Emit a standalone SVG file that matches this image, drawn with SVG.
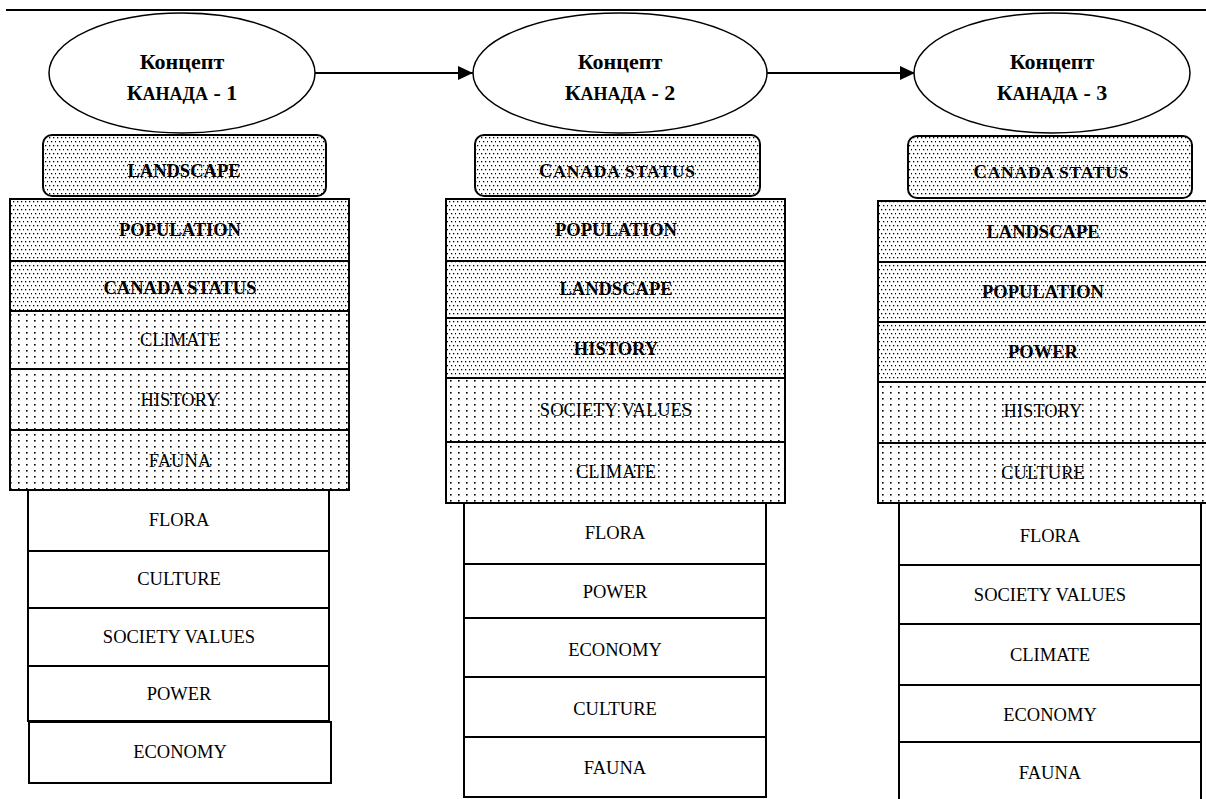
<svg xmlns="http://www.w3.org/2000/svg" width="1206" height="799" viewBox="0 0 1206 799">
<style>
.bg{fill:#fff}
.ell{fill:#fff;stroke:#000;stroke-width:1.5}
.box{stroke:#000;stroke-width:2;fill:#fff}
.dense{stroke:#000;stroke-width:2;fill:url(#dense)}
.sparse{stroke:#000;stroke-width:2;fill:url(#sparse)}
.t{font-family:"Liberation Serif","Times New Roman",serif;font-size:18.5px;fill:#000;text-anchor:middle}
.b{font-weight:bold}
.h{font-family:"Liberation Serif","Times New Roman",serif;font-size:22px;font-weight:bold;fill:#000;text-anchor:middle}
.sc{font-size:18px}
.sc2{font-size:17.5px}
.conn{stroke:#000;stroke-width:2;fill:none;marker-end:url(#arr)}
</style>
<defs>
<pattern id="dense" patternUnits="userSpaceOnUse" width="8" height="8">
<rect width="8" height="8" fill="#fff"/>
<rect x="1" y="1" width="1.3" height="1.3" fill="#000"/>
<rect x="5" y="1" width="1.3" height="1.3" fill="#000"/>
<rect x="3" y="5" width="1.3" height="1.3" fill="#000"/>
<rect x="7" y="5" width="1.3" height="1.3" fill="#000"/>
</pattern>
<pattern id="sparse" patternUnits="userSpaceOnUse" width="8" height="6">
<rect width="8" height="6" fill="#fff"/>
<rect x="2" y="2" width="1.6" height="1.6" fill="#000"/>
</pattern>
<marker id="arr" markerUnits="userSpaceOnUse" markerWidth="16" markerHeight="14" refX="15" refY="7" orient="auto">
<path d="M0,0 L15,7 L0,14 Z" fill="#000"/>
</marker>
</defs>
<rect class="bg" width="1206" height="799"/>
<line x1="6" y1="10" x2="1206" y2="10" stroke="#000" stroke-width="2"/>

<g id="connectors">
<line class="conn" x1="315" y1="73" x2="473" y2="73"/>
<line class="conn" x1="767" y1="73" x2="915" y2="73"/>
</g>

<g id="concept1">
<ellipse class="ell" cx="182" cy="73" rx="133" ry="60"/>
<text class="h" x="182" y="69">Концепт</text>
<text class="h" x="182" y="100">К<tspan class="sc">АНАДА</tspan> -  1</text>
</g>
<g id="concept2">
<ellipse class="ell" cx="620" cy="73" rx="147" ry="60"/>
<text class="h" x="620" y="69">Концепт</text>
<text class="h" x="620" y="100">К<tspan class="sc">АНАДА</tspan> - 2</text>
</g>
<g id="concept3">
<ellipse class="ell" cx="1052" cy="73" rx="138" ry="60"/>
<text class="h" x="1052" y="69">Концепт</text>
<text class="h" x="1052" y="100">К<tspan class="sc">АНАДА</tspan> - 3</text>
</g>

<g id="col1">
<g id="c1-landscape"><rect class="dense" x="43" y="135" width="283" height="61" rx="9"/><text class="t b" x="184" y="177">LANDSCAPE</text></g>
<g id="c1-population"><rect class="dense" x="10" y="199" width="339" height="62"/><text class="t b" x="180" y="236">POPULATION</text></g>
<g id="c1-canada"><rect class="dense" x="10" y="261" width="339" height="50"/><text class="t b" x="180" y="294">CANADA STATUS</text></g>
<g id="c1-climate"><rect class="sparse" x="10" y="311" width="339" height="58"/><text class="t" x="180" y="346">CLIMATE</text></g>
<g id="c1-history"><rect class="sparse" x="10" y="369" width="339" height="61"/><text class="t" x="180" y="406">HISTORY</text></g>
<g id="c1-fauna"><rect class="sparse" x="10" y="430" width="339" height="60"/><text class="t" x="180" y="467">FAUNA</text></g>
<g id="c1-flora"><rect class="box" x="28" y="490" width="301" height="61"/><text class="t" x="179" y="526">FLORA</text></g>
<g id="c1-culture"><rect class="box" x="28" y="551" width="301" height="57"/><text class="t" x="179" y="585">CULTURE</text></g>
<g id="c1-society"><rect class="box" x="28" y="608" width="301" height="58"/><text class="t" x="179" y="643">SOCIETY VALUES</text></g>
<g id="c1-power"><rect class="box" x="28" y="666" width="301" height="55"/><text class="t" x="179" y="700">POWER</text></g>
<g id="c1-economy"><rect class="box" x="29" y="722" width="302" height="61"/><text class="t" x="180" y="758">ECONOMY</text></g>
</g>

<g id="col2">
<g id="c2-canada"><rect class="dense" x="475" y="135" width="285" height="61" rx="9"/><text class="t b" x="617" y="177" textLength="156" lengthAdjust="spacing">C<tspan class="sc2">ANADA STATUS</tspan></text></g>
<g id="c2-population"><rect class="dense" x="446" y="199" width="339" height="62"/><text class="t b" x="616" y="236">POPULATION</text></g>
<g id="c2-landscape"><rect class="dense" x="446" y="261" width="339" height="57"/><text class="t b" x="616" y="295">LANDSCAPE</text></g>
<g id="c2-history"><rect class="dense" x="446" y="318" width="339" height="60"/><text class="t b" x="616" y="355">HISTORY</text></g>
<g id="c2-society"><rect class="sparse" x="446" y="378" width="339" height="64"/><text class="t" x="616" y="416">SOCIETY VALUES</text></g>
<g id="c2-climate"><rect class="sparse" x="446" y="442" width="339" height="61"/><text class="t" x="616" y="478">CLIMATE</text></g>
<g id="c2-flora"><rect class="box" x="464" y="503" width="302" height="61"/><text class="t" x="615" y="539">FLORA</text></g>
<g id="c2-power"><rect class="box" x="464" y="564" width="302" height="54"/><text class="t" x="615" y="598">POWER</text></g>
<g id="c2-economy"><rect class="box" x="464" y="618" width="302" height="59"/><text class="t" x="615" y="656">ECONOMY</text></g>
<g id="c2-culture"><rect class="box" x="464" y="677" width="302" height="60"/><text class="t" x="615" y="715">CULTURE</text></g>
<g id="c2-fauna"><rect class="box" x="464" y="737" width="302" height="60"/><text class="t" x="615" y="774">FAUNA</text></g>
</g>

<g id="col3">
<g id="c3-canada"><rect class="dense" x="908" y="136" width="284" height="62" rx="9"/><text class="t b" x="1051" y="178" textLength="155" lengthAdjust="spacing">C<tspan class="sc2">ANADA STATUS</tspan></text></g>
<g id="c3-landscape"><rect class="dense" x="878" y="201" width="332" height="61"/><text class="t b" x="1043" y="238">LANDSCAPE</text></g>
<g id="c3-population"><rect class="dense" x="878" y="262" width="332" height="60"/><text class="t b" x="1043" y="298">POPULATION</text></g>
<g id="c3-power"><rect class="dense" x="878" y="322" width="332" height="60"/><text class="t b" x="1043" y="358">POWER</text></g>
<g id="c3-history"><rect class="sparse" x="878" y="382" width="332" height="61"/><text class="t" x="1043" y="417">HISTORY</text></g>
<g id="c3-culture"><rect class="sparse" x="878" y="443" width="332" height="60"/><text class="t" x="1043" y="479">CULTURE</text></g>
<g id="c3-flora"><rect class="box" x="899" y="503" width="302" height="62"/><text class="t" x="1050" y="542">FLORA</text></g>
<g id="c3-society"><rect class="box" x="899" y="565" width="302" height="59"/><text class="t" x="1050" y="601">SOCIETY VALUES</text></g>
<g id="c3-climate"><rect class="box" x="899" y="624" width="302" height="61"/><text class="t" x="1050" y="661">CLIMATE</text></g>
<g id="c3-economy"><rect class="box" x="899" y="685" width="302" height="57"/><text class="t" x="1050" y="721">ECONOMY</text></g>
<g id="c3-fauna"><rect class="box" x="899" y="742" width="302" height="70"/><text class="t" x="1050" y="779">FAUNA</text></g>
</g>
</svg>
